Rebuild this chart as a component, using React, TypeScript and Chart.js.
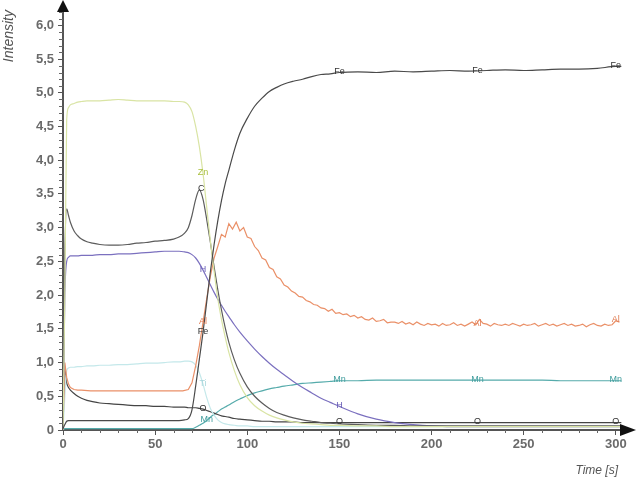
import React, { useEffect, useRef } from 'react';
import { Chart, registerables } from 'chart.js';
Chart.register(...registerables);

// ---- data ----
const T = [0,1,2,3,4,6,8,10,13,16,20,25,30,35,40,45,50,55,60,63,66,68,70,72,74,76,78,80,82,84,86,88,90,93,96,100,104,108,112,116,120,125,130,135,140,145,150,160,170,180,190,200,210,220,230,240,250,260,270,280,290,300,303];

const FE = [0.02,0.08,0.13,0.14,0.14,0.14,0.14,0.14,0.14,0.14,
  0.14,0.14,0.14,0.14,0.14,0.14,0.14,0.14,0.14,0.14,
  0.15,0.17,0.3,0.65,1.05,1.45,1.9,2.35,2.75,3.1,
  3.4,3.65,3.85,4.15,4.4,4.62,4.8,4.92,5.02,5.08,
  5.13,5.17,5.2,5.24,5.27,5.28,5.3,5.31,5.3,5.32,
  5.31,5.32,5.33,5.32,5.33,5.34,5.33,5.34,5.35,5.35,
  5.36,5.39,5.39];

const ZN = [0,2.0,4.6,4.78,4.82,4.84,4.86,4.87,4.88,4.88,
  4.88,4.89,4.9,4.89,4.88,4.88,4.88,4.88,4.87,4.87,
  4.86,4.82,4.72,4.5,4.2,3.8,3.3,2.8,2.35,1.95,
  1.64,1.38,1.15,0.88,0.67,0.48,0.36,0.28,0.22,0.18,
  0.15,0.12,0.1,0.09,0.08,0.07,0.07,0.06,0.06,0.05,
  0.05,0.05,0.05,0.05,0.05,0.05,0.05,0.05,0.05,0.05,
  0.05,0.05,0.05];

const C = [0,2.6,3.28,3.18,3.08,2.95,2.88,2.83,2.79,2.77,
  2.75,2.74,2.74,2.75,2.77,2.78,2.8,2.81,2.83,2.86,
  2.92,3.0,3.18,3.42,3.56,3.42,3.12,2.78,2.42,2.08,
  1.78,1.52,1.3,1.04,0.84,0.64,0.5,0.4,0.32,0.26,
  0.22,0.18,0.15,0.13,0.11,0.1,0.09,0.08,0.07,0.07,
  0.06,0.06,0.06,0.06,0.06,0.06,0.06,0.06,0.06,0.06,
  0.06,0.06,0.06];

const H = [0,2.0,2.5,2.56,2.58,2.58,2.58,2.59,2.59,2.59,
  2.6,2.6,2.61,2.61,2.62,2.63,2.64,2.65,2.65,2.65,
  2.64,2.63,2.6,2.55,2.47,2.37,2.26,2.15,2.04,1.94,
  1.85,1.76,1.68,1.56,1.45,1.32,1.2,1.09,0.99,0.9,
  0.82,0.72,0.63,0.55,0.47,0.41,0.35,0.24,0.16,0.11,
  0.08,0.06,0.05,0.05,0.05,0.05,0.05,0.05,0.05,0.05,
  0.05,0.05,0.05];

const TI = [0,0.5,0.88,0.92,0.93,0.93,0.94,0.94,0.95,0.95,
  0.96,0.96,0.97,0.97,0.98,0.99,0.99,1.0,1.01,1.01,
  1.02,1.02,1.01,0.96,0.85,0.68,0.48,0.32,0.22,0.15,
  0.11,0.09,0.08,0.07,0.06,0.06,0.05,0.05,0.05,0.05,
  0.05,0.05,0.05,0.05,0.05,0.05,0.05,0.05,0.05,0.05,
  0.05,0.05,0.05,0.05,0.05,0.05,0.05,0.05,0.05,0.05,
  0.05,0.05,0.05];

const O = [0,0.9,0.7,0.63,0.59,0.54,0.5,0.47,0.44,0.42,
  0.4,0.39,0.38,0.37,0.36,0.36,0.35,0.35,0.34,0.34,
  0.34,0.33,0.33,0.33,0.32,0.31,0.29,0.27,0.25,0.23,
  0.21,0.2,0.19,0.17,0.16,0.15,0.14,0.13,0.13,0.12,
  0.12,0.12,0.11,0.11,0.11,0.11,0.11,0.11,0.11,0.11,
  0.11,0.11,0.11,0.11,0.11,0.11,0.11,0.11,0.11,0.11,
  0.11,0.11,0.11];

const MN = [0,0.02,0.02,0.02,0.02,0.02,0.02,0.02,0.02,0.02,
  0.02,0.02,0.02,0.02,0.02,0.02,0.02,0.02,0.02,0.02,
  0.02,0.02,0.02,0.04,0.07,0.1,0.14,0.19,0.23,0.27,
  0.31,0.34,0.37,0.42,0.46,0.51,0.55,0.58,0.61,0.63,
  0.65,0.67,0.69,0.7,0.71,0.72,0.73,0.73,0.74,0.74,
  0.74,0.74,0.74,0.74,0.74,0.74,0.74,0.74,0.73,0.73,
  0.73,0.73,0.73];

const T_AL = [0,1,2,3,4,6,8,10,15,20,25,30,35,40,45,50,55,60,65,68,70,72,74,76,78,
  80,82,84,86,88,90,92,94,96,98,
  100,102,104,106,108,110,112,114,116,118,
  120,122,124,126,128,130,132,134,136,138,
  140,142,144,146,148,150,152,154,156,158,
  160,162,164,166,168,170,172,174,176,178,
  180,182,184,186,188,190,192,194,196,198,
  200,202,204,206,208,210,212,214,216,218,
  220,222,224,226,228,230,232,234,236,238,
  240,242,244,246,248,250,252,254,256,258,
  260,262,264,266,268,270,272,274,276,278,
  280,282,284,286,288,290,292,294,296,298,
  300,302];

const AL = [0.05,1.0,0.78,0.68,0.63,0.6,0.59,0.59,0.58,0.58,0.58,0.58,0.58,0.58,0.58,0.58,0.58,0.58,0.58,0.6,0.7,0.95,1.25,1.6,1.95,
  2.28,2.55,2.72,2.9,2.86,3.06,2.98,3.08,2.95,3.0,
  2.86,2.84,2.72,2.66,2.55,2.52,2.41,2.38,2.27,2.24,
  2.15,2.12,2.06,2.03,1.98,1.97,1.92,1.9,1.86,1.85,
  1.81,1.8,1.76,1.79,1.73,1.74,1.71,1.72,1.68,1.7,
  1.66,1.68,1.64,1.63,1.66,1.61,1.62,1.64,1.59,1.6,
  1.6,1.58,1.61,1.57,1.59,1.56,1.6,1.57,1.55,1.58,
  1.56,1.57,1.54,1.58,1.55,1.56,1.59,1.55,1.57,1.54,
  1.57,1.6,1.56,1.64,1.58,1.57,1.54,1.58,1.56,1.55,
  1.57,1.55,1.58,1.56,1.54,1.57,1.55,1.56,1.58,1.54,
  1.56,1.58,1.55,1.57,1.54,1.56,1.58,1.55,1.57,1.54,
  1.55,1.57,1.53,1.56,1.58,1.55,1.54,1.57,1.55,1.56,
  1.62,1.6];

const SERIES_NAMES = ['Fe', 'Zn', 'C', 'H', 'Al', 'Ti', 'O', 'Mn'];
const LABEL_SERIES = ['Fe','Fe','Fe','Fe','Zn','C','H','H','Al','Al','Al','Ti','O','O','O','O','Mn','Mn','Mn','Mn'];
const LABEL_TIMES = [76,150,225,300,76,75,76,150,76,225,300,76,76,150,225,300,78,150,225,300];

const LINE_COLORS: Record<string, string> = {
  Fe: '#4a4a4a', Zn: '#d9e4a4', C: '#5c5c5c', H: '#7b70bf', Al: '#ea9068', Ti: '#c4e8ea', O: '#454545', Mn: '#55abab',
};
const TEXT_COLORS: Record<string, string> = {
  Fe: '#333', Zn: '#a9bf3c', C: '#333', H: '#6a5fb8', Al: '#e07a50', Ti: '#a8d6dc', O: '#333', Mn: '#3f9c9c',
};

const FONT = '"Liberation Sans", Arial, sans-serif';

function pts(xs: number[], ys: number[]) {
  return xs.map((x, i) => ({ x, y: ys[i] }));
}

const overlay = {
  id: 'overlay',
  afterDraw(chart: any) {
    const { ctx, chartArea, scales } = chart;
    const xs = scales.x, ys = scales.y;
    ctx.save();
    // minor ticks
    ctx.strokeStyle = '#666';
    ctx.lineWidth = 1;
    ctx.beginPath();
    for (let i = 0; i <= 62; i++) {
      if (i % 5 === 0) continue;
      const y = Math.round(ys.getPixelForValue(i / 10)) + 0.5;
      ctx.moveTo(chartArea.left - 4, y);
      ctx.lineTo(chartArea.left, y);
    }
    for (let i = 0; i <= 30; i++) {
      if (i % 5 === 0) continue;
      const x = Math.round(xs.getPixelForValue(i * 10)) + 0.5;
      ctx.moveTo(x, chartArea.bottom);
      ctx.lineTo(x, chartArea.bottom + 3);
    }
    ctx.stroke();

    // arrows
    ctx.fillStyle = '#111';
    const ax = chartArea.left;
    ctx.beginPath();
    ctx.moveTo(ax, 0);
    ctx.lineTo(ax - 6, 12);
    ctx.lineTo(ax + 6, 12);
    ctx.closePath();
    ctx.fill();
    const ay = chartArea.bottom;
    ctx.beginPath();
    ctx.moveTo(636, ay);
    ctx.lineTo(620, ay - 6);
    ctx.lineTo(620, ay + 6);
    ctx.closePath();
    ctx.fill();

    // axis titles
    ctx.fillStyle = '#555';
    ctx.font = `italic 12px ${FONT}`;
    ctx.textAlign = 'right';
    ctx.textBaseline = 'alphabetic';
    ctx.fillText('Time [s]', 618, 474);
    ctx.save();
    ctx.font = `italic 14px ${FONT}`;
    ctx.translate(13, 10);
    ctx.rotate(-Math.PI / 2);
    ctx.textAlign = 'right';
    ctx.fillText('Intensity', 0, 0);
    ctx.restore();

    // series labels
    ctx.font = `9px ${FONT}`;
    ctx.textAlign = 'center';
    ctx.textBaseline = 'middle';
    LABEL_SERIES.forEach((name, k) => {
      const di = SERIES_NAMES.indexOf(name);
      const meta = chart.getDatasetMeta(di);
      const data = chart.data.datasets[di].data as { x: number; y: number }[];
      const t = LABEL_TIMES[k];
      let best = 0;
      for (let i = 1; i < data.length; i++) {
        if (Math.abs(data[i].x - t) < Math.abs(data[best].x - t)) best = i;
      }
      const el = meta.data[best];
      ctx.fillStyle = TEXT_COLORS[name];
      ctx.fillText(name, xs.getPixelForValue(t), el.y - 1);
    });
    ctx.restore();
  },
};

export default function App() {
  const ref = useRef<HTMLCanvasElement>(null);
  useEffect(() => {
    document.body.style.margin = '0';
    const seriesData: Record<string, { x: number; y: number }[]> = {
      Fe: pts(T, FE), Zn: pts(T, ZN), C: pts(T, C), H: pts(T, H), Al: pts(T_AL, AL), Ti: pts(T, TI), O: pts(T, O), Mn: pts(T, MN),
    };
    const chart = new Chart(ref.current!, {
      type: 'line',
      data: {
        datasets: SERIES_NAMES.map((n) => ({
          label: n,
          data: seriesData[n],
          borderColor: LINE_COLORS[n],
          borderWidth: 1.2,
          pointRadius: 0,
          fill: false,
          tension: n === 'Al' ? 0 : 0.3,
          cubicInterpolationMode: n === 'Al' ? 'default' : 'monotone',
        })) as any,
      },
      options: {
        animation: false,
        responsive: false,
        layout: { padding: { top: 2, right: 11, left: 0, bottom: 0 } },
        plugins: { legend: { display: false }, tooltip: { enabled: false } },
        scales: {
          x: {
            type: 'linear',
            min: 0,
            max: 305,
            ticks: {
              stepSize: 50,
              includeBounds: false,
              maxRotation: 0,
              padding: 2,
              color: '#6a6a6a',
              font: { family: FONT, size: 13, weight: 'bold' },
              callback: (v: any) => String(v),
            },
            grid: { drawOnChartArea: false, drawTicks: true, tickLength: 5, color: '#555' },
            border: { display: true, color: '#555', width: 2 },
            afterFit: (s: any) => { s.height = 50; },
          },
          y: {
            type: 'linear',
            min: 0,
            max: 6.2,
            ticks: {
              stepSize: 0.5,
              includeBounds: false,
              padding: 4,
              color: '#6a6a6a',
              font: { family: FONT, size: 13, weight: 'bold' },
              callback: (v: any) => (Number(v) === 0 ? '0' : Number(v).toFixed(1).replace('.', ',')),
            },
            grid: { drawOnChartArea: false, drawTicks: true, tickLength: 5, color: '#555' },
            border: { display: true, color: '#555', width: 2 },
            afterFit: (s: any) => { s.width = 63; },
          },
        },
      } as any,
      plugins: [overlay],
    });
    return () => chart.destroy();
  }, []);
  return <canvas ref={ref} width={636} height={480} style={{ display: 'block', width: 636, height: 480 }} />;
}
